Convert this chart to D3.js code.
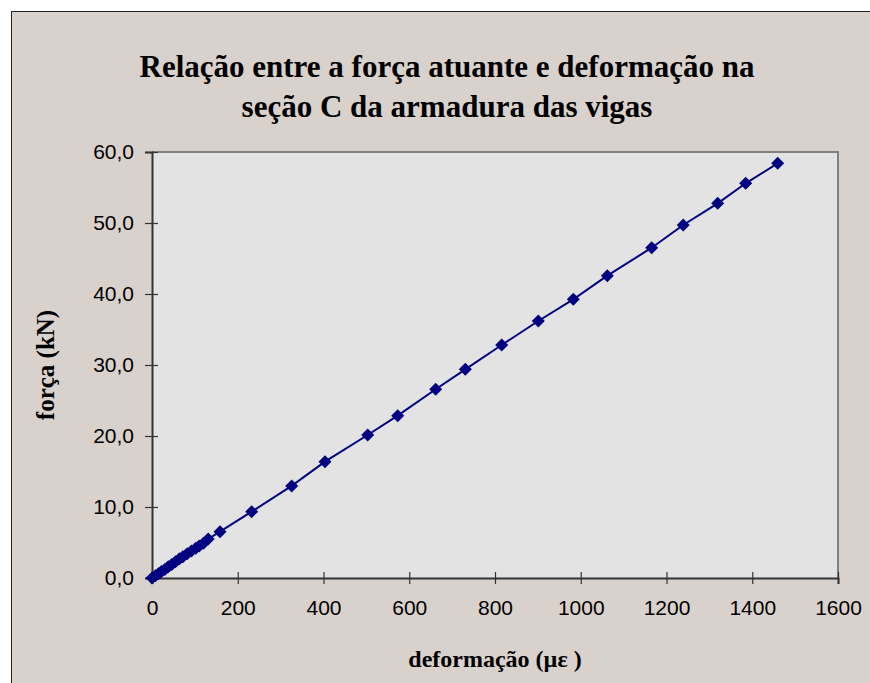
<!DOCTYPE html>
<html><head><meta charset="utf-8">
<script src="https://cdn.jsdelivr.net/npm/d3@7"></script>
<style>body{margin:0;background:#fff}svg{display:block}</style>
</head><body>
<svg id="c" width="870" height="683"></svg>
<script>
const titleLines = ["Relação entre a força atuante e deformação na", "seção C da armadura das vigas"];
const xLabel = "deformação (µε )";
const yLabel = "força (kN)";
const deformacao = [0, 8, 15, 22, 30, 38, 46, 55, 64, 72, 82, 92, 102, 110, 120, 131,
  158.6, 232.5, 325.8, 403.5, 503, 573, 661.7, 730.7, 815.6, 901, 982.6, 1062, 1165.5, 1239, 1319.4, 1384.7, 1459.3];
const forca = [0, 0.3, 0.6, 0.9, 1.2, 1.6, 1.9, 2.3, 2.7, 3.0, 3.4, 3.8, 4.2, 4.5, 4.9, 5.5,
  6.52, 9.34, 12.97, 16.38, 20.14, 22.86, 26.58, 29.39, 32.82, 36.2, 39.25, 42.58, 46.52, 49.72, 52.77, 55.59, 58.41];
const xTicks = [0, 200, 400, 600, 800, 1000, 1200, 1400, 1600];
const yTicks = [0, 10, 20, 30, 40, 50, 60];

const svg = d3.select("#c");
svg.append("rect").attr("x", 11.5).attr("y", 11.5).attr("width", 870).attr("height", 683)
  .attr("fill", "#d9d1cc").attr("stroke", "#222").attr("stroke-width", 1);

const L = 152, R = 838, T = 152, B = 578;
const x = d3.scaleLinear().domain([0, 1600]).range([L, R]);
const y = d3.scaleLinear().domain([0, 60]).range([B, T]);

svg.append("rect").attr("x", L).attr("y", T).attr("width", R - L).attr("height", B - T)
  .attr("fill", "#e3e3e3");
svg.append("path").attr("d", `M${L},${T}H${R}V${B}`).attr("fill", "none")
  .attr("stroke", "#808080").attr("stroke-width", 2);

const fmt = d => d3.format(".1f")(d).replace(".", ",");
const yAxis = svg.append("g").attr("transform", `translate(${L},0)`)
  .call(d3.axisLeft(y).tickValues(yTicks).tickSize(7).tickPadding(11).tickFormat(fmt));
const xAxis = svg.append("g").attr("transform", `translate(0,${B})`)
  .call(d3.axisBottom(x).tickValues(xTicks).tickSize(6).tickPadding(16).tickFormat(d3.format("d")));
[yAxis, xAxis].forEach(g => {
  g.select(".domain").attr("stroke", "#333").attr("stroke-width", 2);
  g.selectAll(".tick line").attr("stroke", "#333").attr("stroke-width", 1.2);
  g.selectAll(".tick text").attr("fill", "#000").style("font-family", "Liberation Sans, Arial, sans-serif").style("font-size", "21px");
});
// ticks cross the axes
yAxis.selectAll(".tick line").attr("x1", 6);
xAxis.selectAll(".tick line").attr("y1", -6);

const pts = deformacao.map((d, i) => [d, forca[i]]);
svg.append("path").datum(pts)
  .attr("d", d3.line().x(d => x(d[0])).y(d => y(d[1])))
  .attr("fill", "none").attr("stroke", "#000080").attr("stroke-width", 2);
svg.append("g").selectAll("path").data(pts).join("path")
  .attr("transform", d => `translate(${x(d[0])},${y(d[1])})`)
  .attr("d", "M0,-6.5L6.5,0L0,6.5L-6.5,0Z").attr("fill", "#000080");

const title = svg.append("text").attr("text-anchor", "middle")
  .style("font-family", "Liberation Serif, Times New Roman, serif").style("font-weight", "bold").style("font-size", "31px");
titleLines.forEach((t, i) => title.append("tspan").attr("x", 447).attr("y", 77 + i * 40).text(t));

svg.append("text").attr("x", 495).attr("y", 667).attr("text-anchor", "middle")
  .style("font-family", "Liberation Serif, Times New Roman, serif").style("font-weight", "bold").style("font-size", "24px")
  .text(xLabel);
svg.append("text").attr("transform", "translate(54,365) rotate(-90)").attr("text-anchor", "middle")
  .style("font-family", "Liberation Serif, Times New Roman, serif").style("font-weight", "bold").style("font-size", "25px")
  .text(yLabel);
</script>
</body></html>
